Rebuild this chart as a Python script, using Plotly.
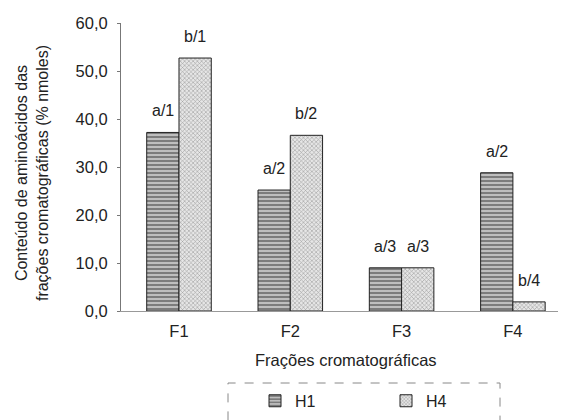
import plotly.graph_objects as go

categories = ["F1", "F2", "F3", "F4"]
h1_values = [37.2, 25.2, 9.0, 28.8]
h4_values = [52.7, 36.6, 9.0, 1.9]
h1_labels = ["a/1", "a/2", "a/3", "a/2"]
h4_labels = ["b/1", "b/2", "a/3", "b/4"]
y_ticks = [0, 10, 20, 30, 40, 50, 60]
y_ticktext = ["0,0", "10,0", "20,0", "30,0", "40,0", "50,0", "60,0"]

font_family = "Liberation Sans, Arial, sans-serif"
BARGAP = 0.42
half = (1 - BARGAP) / 4  # offset of each bar centre from the category centre

fig = go.Figure()
fig.add_trace(go.Bar(
    x=categories, y=h1_values, name="H1",
    marker=dict(color="#8a8a8a", line=dict(color="#222", width=1),
                pattern=dict(shape="-", fgcolor="#3a3a3a", bgcolor="#bebebe", size=4, solidity=0.5)),
))
fig.add_trace(go.Bar(
    x=categories, y=h4_values, name="H4",
    marker=dict(color="#c8c8c8", line=dict(color="#222", width=1),
                pattern=dict(shape="x", fgcolor="#555", bgcolor="#e6e6e6", size=3, solidity=0.35)),
))

for i, (v, t) in enumerate(zip(h1_values, h1_labels)):
    fig.add_annotation(x=i - half, y=v, text=t, showarrow=False, yanchor="bottom",
                       yshift=11, font=dict(size=16, color="#222"))
for i, (v, t) in enumerate(zip(h4_values, h4_labels)):
    fig.add_annotation(x=i + half, y=v, text=t, showarrow=False, yanchor="bottom",
                       yshift=11, font=dict(size=16, color="#222"))

fig.update_layout(
    width=566, height=420,
    margin=dict(l=113, r=0, t=15, b=117, autoexpand=False),
    paper_bgcolor="white", plot_bgcolor="white",
    font=dict(family=font_family, size=16, color="#222"),
    barmode="group", bargap=BARGAP, bargroupgap=0,
    showlegend=True,
    legend=dict(orientation="h", x=(247 - 113) / 453, y=-0.253, xanchor="left", yanchor="top",
                entrywidth=86, font=dict(size=16), bgcolor="rgba(0,0,0,0)",
                itemwidth=30),
)
fig.update_xaxes(
    range=[-0.521, 3.549], showline=True, linecolor="#999", linewidth=1,
    ticks="", tickfont=dict(size=16.5), showgrid=False, automargin=False,
    ticklabelstandoff=5,
)
fig.update_yaxes(
    range=[0, 60], tickvals=y_ticks, ticktext=y_ticktext,
    showline=True, linecolor="#777", linewidth=1, ticks="outside", ticklen=3,
    tickcolor="#777", tickfont=dict(size=16.5), showgrid=False, zeroline=False,
    automargin=False, ticklabelstandoff=6,
)
fig.add_annotation(text="Conteúdo de aminoácidos das<br>frações cromatográficas (% nmoles)",
                   xref="paper", yref="paper", x=(24 - 113) / 453, y=0.479,
                   xanchor="center", yanchor="middle", textangle=-90,
                   showarrow=False, font=dict(size=16))
fig.add_annotation(text="Frações cromatográficas", xref="paper", yref="paper",
                   x=0.497, y=-0.17, xanchor="center", yanchor="middle",
                   showarrow=False, font=dict(size=16.5))
fig.add_shape(type="rect", xref="paper", yref="paper",
              x0=(220 - 113) / 453, x1=(492 - 113) / 453, y0=-0.45, y1=-0.25,
              line=dict(color="#888", width=1, dash="dash"))

fig.write_html("out.html")
